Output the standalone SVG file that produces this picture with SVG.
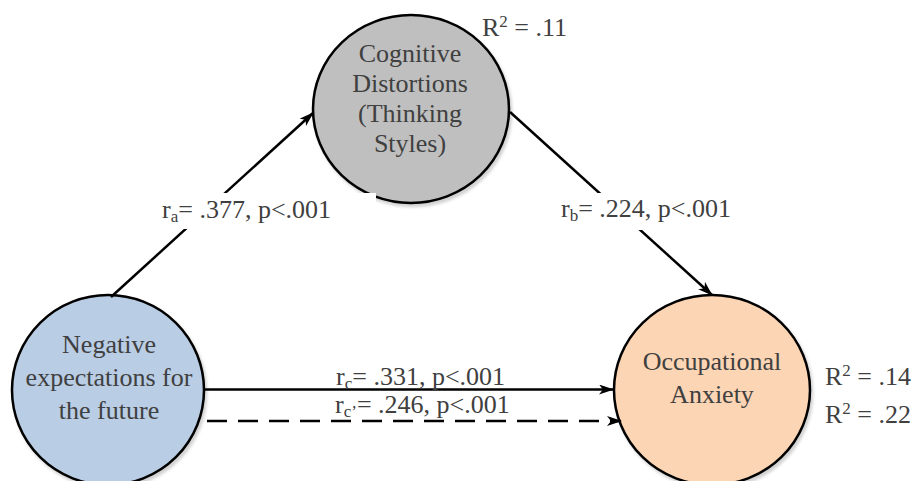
<svg xmlns="http://www.w3.org/2000/svg" width="912" height="481" viewBox="0 0 912 481">
<style>
.node{stroke:#000;stroke-width:2.5}
.txt{font-family:"Liberation Serif","Times New Roman",serif;font-size:26px;fill:#404040;text-anchor:middle}
.lbl{font-family:"Liberation Serif","Times New Roman",serif;font-size:26px;fill:#404040}
.sub{font-size:17px}
.conn{stroke:#000;stroke-width:2.5;fill:none;marker-end:url(#arr)}
.box{fill:#fff}
</style>
<defs>
<marker id="arr" markerUnits="userSpaceOnUse" markerWidth="16" markerHeight="12" refX="14" refY="5" orient="auto">
<path d="M0,0 L15,5 L0,10 L4,5 z" fill="#000"/>
</marker>
<filter id="sh" x="-10%" y="-10%" width="125%" height="125%">
<feDropShadow dx="2" dy="3" stdDeviation="1.5" flood-color="#000" flood-opacity="0.18"/>
</filter>
</defs>
<rect width="912" height="481" fill="#fff"/>
<g id="node-cognitive">
<ellipse class="node" cx="411" cy="109" rx="98" ry="94" fill="#BFBFBF" filter="url(#sh)"/>
</g>
<g id="node-negative">
<ellipse class="node" cx="108" cy="390" rx="96" ry="95" fill="#B9CDE5" filter="url(#sh)"/>
</g>
<g id="node-anxiety">
<ellipse class="node" cx="712" cy="390" rx="98" ry="95" fill="#FCD5B5" filter="url(#sh)"/>
</g>
<g id="connectors">
<line class="conn" x1="111" y1="297" x2="313" y2="113"/>
<line class="conn" x1="510" y1="112" x2="712" y2="295"/>
<line class="conn" x1="205" y1="389.5" x2="613" y2="389.5"/>
<line class="conn" x1="207" y1="421" x2="621" y2="421" stroke-dasharray="20 11"/>
</g>
<g id="label-boxes">
<rect class="box" x="155" y="193" width="221" height="36"/>
<rect class="box" x="555" y="193" width="185" height="37"/>
</g>
<g id="node-texts">
<text class="txt" x="410" y="62">Cognitive</text>
<text class="txt" x="410" y="92">Distortions</text>
<text class="txt" x="410" y="122">(Thinking</text>
<text class="txt" x="410" y="152">Styles)</text>
<text class="txt" x="109" y="353">Negative</text>
<text class="txt" x="109" y="386">expectations for</text>
<text class="txt" x="109" y="419">the future</text>
<text class="txt" x="712" y="370">Occupational</text>
<text class="txt" x="712" y="403">Anxiety</text>
</g>
<g id="labels">
<text class="lbl" x="162" y="218">r<tspan class="sub" dy="4">a</tspan><tspan dy="-4">= .377, p&lt;.001</tspan></text>
<text class="lbl" x="561" y="217">r<tspan class="sub" dy="4">b</tspan><tspan dy="-4">= .224, p&lt;.001</tspan></text>
<text class="lbl" x="336" y="385">r<tspan class="sub" dy="4">c</tspan><tspan dy="-4">= .331, p&lt;.001</tspan></text>
<text class="lbl" x="335" y="413">r<tspan class="sub" dy="4">c’</tspan><tspan dy="-4">= .246, p&lt;.001</tspan></text>
<text class="lbl" x="482" y="36">R<tspan class="sub" dy="-9">2</tspan><tspan dy="9"> = .11</tspan></text>
<text class="lbl" x="825" y="385">R<tspan class="sub" dy="-9">2</tspan><tspan dy="9"> = .14</tspan></text>
<text class="lbl" x="825" y="423">R<tspan class="sub" dy="-9">2</tspan><tspan dy="9"> = .22</tspan></text>
</g>
</svg>
